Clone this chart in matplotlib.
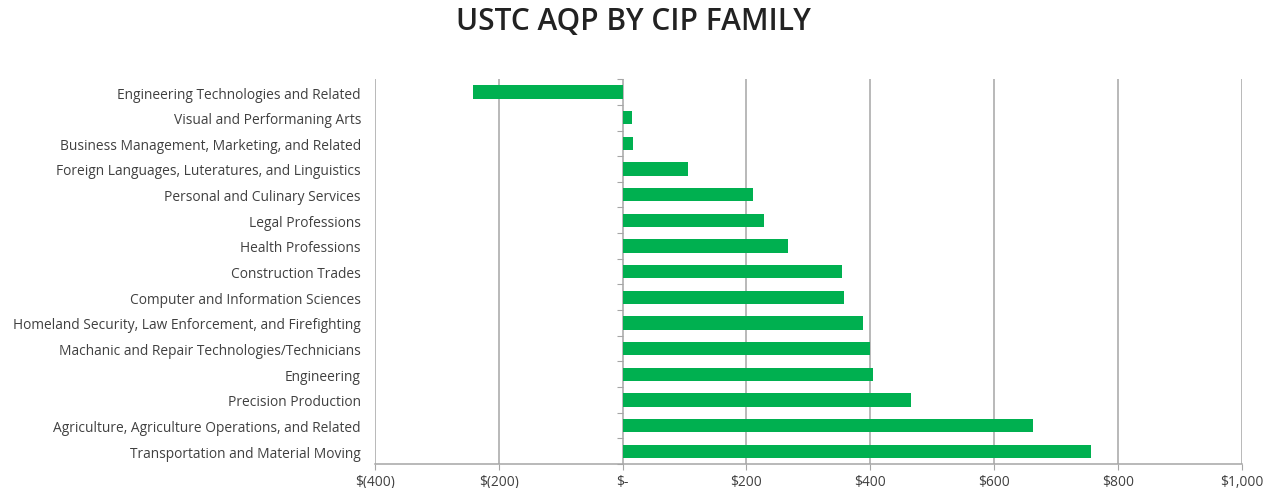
import numpy as np
import matplotlib.pyplot as plt
from matplotlib.ticker import FuncFormatter

families = [
    "Engineering Technologies and Related",
    "Visual and Performaning Arts",
    "Business Management, Marketing, and Related",
    "Foreign Languages, Luteratures, and Linguistics",
    "Personal and Culinary Services",
    "Legal Professions",
    "Health Professions",
    "Construction Trades",
    "Computer and Information Sciences",
    "Homeland Security, Law Enforcement, and Firefighting",
    "Machanic and Repair Technologies/Technicians",
    "Engineering",
    "Precision Production",
    "Agriculture, Agriculture Operations, and Related",
    "Transportation and Material Moving",
]
aqp = [-241, 15, 17, 105, 210, 228, 267, 354, 358, 388, 400, 405, 466, 663, 756]
x_ticks = [-400, -200, 0, 200, 400, 600, 800, 1000]

plt.rcParams['font.family'] = ['Open Sans', 'DejaVu Sans']

fig = plt.figure(figsize=(12.75, 4.89), dpi=100)
ax = fig.add_axes([0.294, 0.049, 0.680, 0.787])

y = np.arange(len(families))
ax.barh(y, aqp, height=0.52, color='#00B050', zorder=3)

ax.set_ylim(len(families) - 0.5, -0.5)
ax.set_xlim(x_ticks[0], x_ticks[-1])
ax.set_yticks(y)
ax.set_yticklabels(families, fontsize=9.9, color='#404040')
ax.tick_params(axis='y', length=0, pad=10)

def money(v, pos):
    if v == 0:
        return "$-"
    if v < 0:
        return "$({:,.0f})".format(-v)
    return "${:,.0f}".format(v)

ax.set_xticks(x_ticks)
ax.xaxis.set_major_formatter(FuncFormatter(money))
ax.tick_params(axis='x', length=4, color='#a6a6a6', labelsize=9.9,
               labelcolor='#404040', pad=3)
ax.xaxis.grid(True, color='#a6a6a6', linewidth=1.1, zorder=0)
ax.set_axisbelow(True)

for side in ['top', 'right', 'left']:
    ax.spines[side].set_visible(False)
ax.spines['bottom'].set_color('#a6a6a6')
ax.spines['bottom'].set_linewidth(1.1)

# category tick marks on the zero line
zero_pos = (0 - x_ticks[0]) / (x_ticks[-1] - x_ticks[0])
sec = ax.secondary_yaxis(zero_pos)
sec.set_yticks(np.arange(len(families) + 1) - 0.5)
sec.set_yticklabels([])
sec.tick_params(length=4, color='#a6a6a6')
sec.spines['left'].set_visible(False)

fig.text(0.497, 0.955, "USTC AQP BY CIP FAMILY", ha='center', va='center',
         fontsize=21.5, fontweight='semibold', color='#222222')

fig.savefig("out.png", dpi=100, facecolor='white')
